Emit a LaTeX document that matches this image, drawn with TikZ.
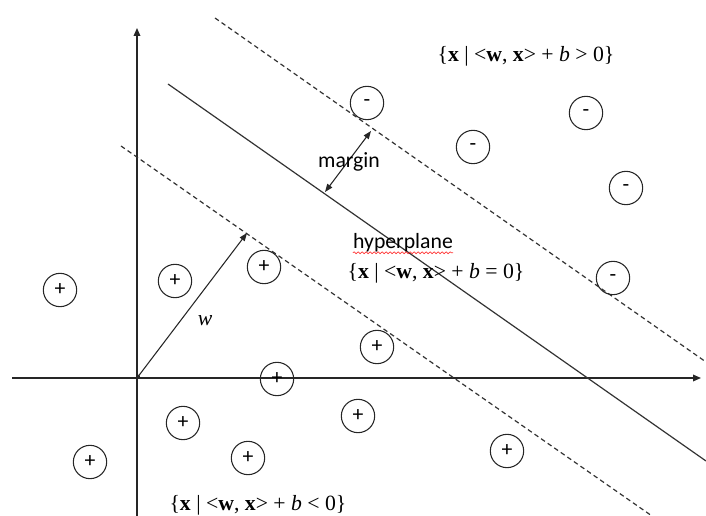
\documentclass[tikz,border=0pt]{standalone}
\usepackage{fontspec}
\setmainfont{Liberation Serif}
\newfontfamily\calibri{Carlito}
\usetikzlibrary{arrows.meta,decorations.pathmorphing}

\begin{document}
\begin{tikzpicture}[x=0.75pt, y=-0.75pt,
  font=\fontsize{16.3}{19}\selectfont,
  axis/.style={line width=0.9pt, black!85, -{Triangle[length=6pt,width=5pt]}},
  plane/.style={line width=0.9pt, black!80},
  bound/.style={plane, dash pattern=on 3.5pt off 2.5pt},
  sample/.style={circle, draw=black!85, line width=0.8pt, minimum size=25pt, inner sep=0pt, font=\calibri\fontsize{16.3}{19}\selectfont},
  lab/.style={inner sep=0pt, anchor=center},
  word/.style={lab, font=\calibri\fontsize{16.3}{19}\selectfont},
  vec/.style={line width=0.8pt, black!85, {Circle[length=3pt]}-{Triangle[length=6pt,width=4.5pt]}},
  gap/.style={line width=0.8pt, black!85, {Triangle[length=6pt,width=4.5pt]}-{Triangle[length=6pt,width=4.5pt]}},
  squiggle/.style={red!80, line width=0.5pt, decorate, decoration={snake, amplitude=0.7pt, segment length=3pt}}]

\useasboundingbox (0,0) rectangle (706,516);

% ---- axes ----
\coordinate (O) at (137,378);
\coordinate (xl) at (12,378);
\coordinate (xr) at (701,378);
\coordinate (yb) at (137,516);
\coordinate (yt) at (137,28);
\draw[axis] (xl) -- (xr);
\draw[axis] (yb) -- (yt);

% ---- hyperplane and the two margin lines ----
\coordinate (h1) at (168,84);
\coordinate (h2) at (706,461);
\coordinate (u1) at (215,18);
\coordinate (u2) at (706,362);
\coordinate (l1) at (121,146);
\coordinate (l2) at (652,516);
\draw[plane] (h1) -- (h2);
\draw[bound] (u1) -- (u2);
\draw[bound] (l1) -- (l2);

% ---- normal vector and margin width ----
\coordinate (wt) at (247,233);
\draw[vec] (O) -- (wt);
\coordinate (m1) at (325,192);
\coordinate (m2) at (371,131);
\draw[gap] (m1) -- (m2);

% ---- negative samples ----
\node[sample] (n1) at (367,103) {-};
\node[sample] (n2) at (586,113) {-};
\node[sample] (n3) at (473,147) {-};
\node[sample] (n4) at (626,188) {-};
\node[sample] (n5) at (613,278) {-};

% ---- positive samples ----
\node[sample] (p1) at (60,290) {+};
\node[sample] (p2) at (175,281) {+};
\node[sample] (p3) at (264,267) {+};
\node[sample] (p4) at (377,347) {+};
\node[sample] (p5) at (277,379) {+};
\node[sample] (p6) at (183,423) {+};
\node[sample] (p7) at (358,416) {+};
\node[sample] (p8) at (248,458) {+};
\node[sample] (p9) at (90,462) {+};
\node[sample] (p10) at (507,451) {+};

% ---- labels ----
\node[lab] (pos) at (526,56) {\{\textbf{x} | <\textbf{w}, \textbf{x}> + \textit{b} > 0\}};
\node[word] (mar) at (349,162) {margin};
\node[word] (hyp) at (403,243) {hyperplane};
\draw[squiggle] ([yshift=-3pt]hyp.base west) -- ([yshift=-3pt]hyp.base east);
\node[lab] (zero) at (436,273) {\{\textbf{x} | <\textbf{w}, \textbf{x}> + \textit{b} = 0\}};
\node[lab] (wlab) at (205,321) {\textit{w}};
\node[lab] (neg) at (258,505) {\{\textbf{x} | <\textbf{w}, \textbf{x}> + \textit{b} < 0\}};
\end{tikzpicture}
\end{document}
